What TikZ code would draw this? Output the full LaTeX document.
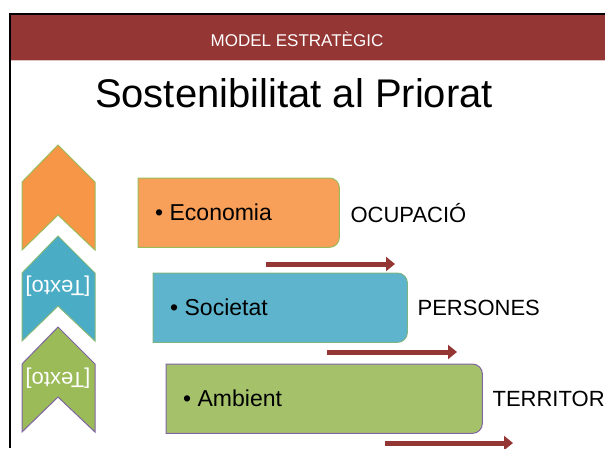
\documentclass[tikz,border=0pt]{standalone}
\usepackage{fontspec}
\setmainfont{Liberation Sans}
\usepackage{xcolor}
\usetikzlibrary{arrows.meta,positioning}

\definecolor{bandred}{HTML}{943634}
\definecolor{ofiorange}{HTML}{F79646}
\definecolor{ofiblue}{HTML}{4BACC6}
\definecolor{ofigreen}{HTML}{9BBB59}
\definecolor{ofipurple}{HTML}{8064A2}

\tikzset{
  boxnode/.style={rectangle,minimum height=69pt,inner sep=0pt,anchor=north west},
  itemtext/.style={font=\fontsize{23}{25}\selectfont,inner sep=0pt},
  sidelabel/.style={font=\fontsize{22}{24}\selectfont,inner sep=0pt},
  flow/.style={bandred,line width=5pt,-{Triangle[length=9pt,width=14pt]},shorten >=-2pt}
}

\begin{document}
\begin{tikzpicture}[x=1pt,y=-1pt]
\useasboundingbox (0,0) rectangle (605,448);
% frame and band
\fill[bandred] (10,15) rectangle (605,60);
\draw[bandred!30,line width=1pt] (10,60.5)--(605,60.5);
\draw[line width=2pt] (10,448)--(10,14)--(605,14);
\node[text=white,font=\fontsize{17}{19}\selectfont] (band) at (297,39) {MODEL ESTRAT\`EGIC};
\node[font=\fontsize{40}{44}\selectfont] (title) at (294,93) {Sostenibilitat al Priorat};

% chevrons
\foreach \t/\c/\b in {145/ofiorange/ofigreen,236/ofiblue/ofigreen!70!ofiblue,327/ofigreen/ofipurple}{
  \draw[fill=\c,draw=\b,line width=1pt]
    (22,\t+37)--(58,\t)--(95,\t+37)--(95,\t+105)--(58,\t+70)--(22,\t+105)--cycle;
}
\node[text=white,rotate=180,font=\fontsize{22}{24}\selectfont] (txa) at (58,286) {[Texto]};
\node[text=white,rotate=180,font=\fontsize{22}{24}\selectfont] (txb) at (58,378) {[Texto]};

% boxes
\node[boxnode,minimum width=201pt] (eco) at (138,178) {};
\node[boxnode,minimum width=254pt] (soc) at (153,273) {};
\node[boxnode,minimum width=316pt] (amb) at (166,364) {};
\draw[fill=ofiorange!90!white,draw=ofigreen,line width=1pt] (eco.south west)--(eco.north west)
  [rounded corners=10pt]--(eco.north east)--(eco.south east)[sharp corners]--cycle;
\draw[fill=ofiblue!90!white,draw=ofigreen!60!ofiblue,line width=1pt] (soc.south west)--(soc.north west)
  [rounded corners=10pt]--(soc.north east)--(soc.south east)[sharp corners]--cycle;
\draw[fill=ofigreen!90!white,draw=ofipurple,line width=1pt] (amb.south west)--(amb.north west)
  [rounded corners=10pt]--(amb.north east)--(amb.south east)[sharp corners]--cycle;

\node[itemtext,anchor=west,right=17pt of eco.west] (ecot) {• Economia};
\node[itemtext,anchor=west,right=17pt of soc.west] (soct) {• Societat};
\node[itemtext,anchor=west,right=17pt of amb.west] (ambt) {• Ambient};

\node[sidelabel,right=11pt of eco] (ocup) {OCUPACIÓ};
\node[sidelabel,right=10pt of soc] (pers) {PERSONES};
\node[sidelabel,right=10pt of amb] (terr) {TERRITORI};

% arrows
\coordinate (ea) at (266,264);
\coordinate (eb) at (393,264);
\coordinate (sa) at (327,352);
\coordinate (sb) at (455,352);
\coordinate (aa) at (385,443);
\coordinate (ab) at (511,443);
\draw[flow] (ea)--(eb);
\draw[flow] (sa)--(sb);
\draw[flow] (aa)--(ab);
\end{tikzpicture}
\end{document}
